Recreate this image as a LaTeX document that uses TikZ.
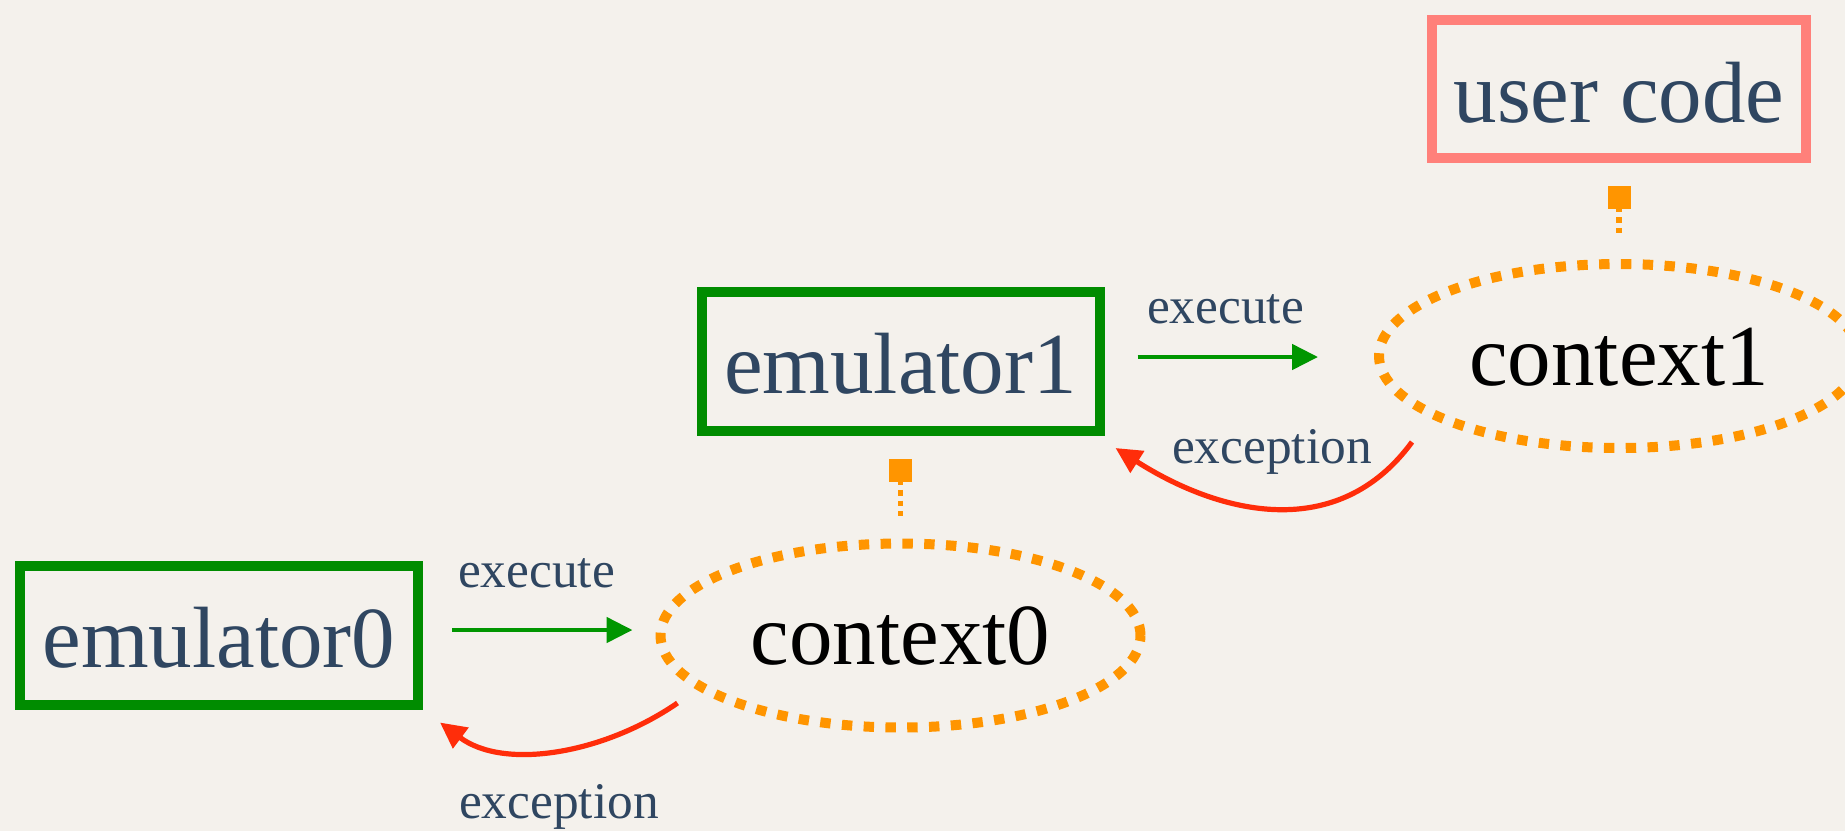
\documentclass[tikz,border=0pt]{standalone}
\usepackage{fontspec}
\setmainfont{Liberation Serif}
\usetikzlibrary{arrows.meta,shapes.geometric}

\definecolor{paper}{RGB}{244,241,236}
\definecolor{ink}{RGB}{47,70,97}
\definecolor{boxgreen}{RGB}{0,140,0}
\definecolor{arrowgreen}{RGB}{0,150,0}
\definecolor{salmon}{RGB}{255,128,122}
\definecolor{amber}{RGB}{255,149,0}
\definecolor{alarm}{RGB}{255,45,10}

\begin{document}
\begin{tikzpicture}[x=0.5pt,y=-0.5pt,
  big/.style={font=\fontsize{43.5}{50}\selectfont, inner sep=0pt, text depth=0pt},
  emubox/.style={big, draw=boxgreen, line width=5pt, text=ink, text height=32pt,
    minimum width=199pt, minimum height=69.5pt},
  userbox/.style={big, draw=salmon, line width=5.3pt, text=ink, text height=33pt,
    minimum width=187pt, minimum height=69pt},
  ctxell/.style={big, ellipse, draw=amber, line width=5pt,
    dash pattern=on 5.2pt off 5.7pt, text=black, text height=29pt,
    minimum width=240pt, minimum height=92pt},
  lbl/.style={font=\fontsize{25.7}{30}\selectfont, text=ink, inner sep=0pt, anchor=base},
  exec/.style={draw=arrowgreen, line width=2.4pt, -{Triangle[length=13pt,width=12.5pt]}},
  fault/.style={draw=alarm, line width=2.6pt, -{Triangle[length=13pt,width=12.5pt]}},
  hook/.style={draw=amber, line width=2.7pt, dash pattern=on 2.8pt off 2.5pt,
    {Square[length=11.5pt,width=11.5pt]}-, shorten <=11.5pt, shorten >=11.5pt}
]
  % canvas
  \fill[paper] (0,0) rectangle (1845,831);
  \useasboundingbox (0,0) rectangle (1845,831);
  \clip (0,0) rectangle (1845,831);

  % boxes and contexts
  \node[userbox] (uc)   at (1619,89)     {user code};
  \node[ctxell]  (ctx1) at (1619,356)    {context1};
  \node[emubox]  (emu1) at (900.5,361.5) {emulator1};
  \node[ctxell]  (ctx0) at (900.5,635.5) {context0};
  \node[emubox]  (emu0) at (219,635)     {emulator0};

  % ownership links
  \draw[hook] (uc.south) -- (ctx1.north);
  \draw[hook] (emu1.south) -- (ctx0.north);

  % execute arrows
  \draw[exec] ([shift={(33,-4.5)}]emu1.east) -- ([shift={(-56,1)}]ctx1.west);
  \draw[exec] ([shift={(29,-5)}]emu0.east) -- ([shift={(-23,-5.5)}]ctx0.west);

  % exception arrows
  \draw[fault] ([shift={(-207,86)}]ctx1.center)
    .. controls +(-74,101) and +(105,67) .. ([shift={(11,12)}]emu1.south east);
  \draw[fault] ([shift={(-223,67.5)}]ctx0.center)
    .. controls +(-74,51) and +(64,48) .. ([shift={(17,13)}]emu0.south east);

  % labels
  \node[lbl] (x1) at (1225.5,323) {execute};
  \node[lbl] (e1) at (1272,463)   {exception};
  \node[lbl] (x0) at (536.5,587)  {execute};
  \node[lbl] (e0) at (559,818)    {exception};
\end{tikzpicture}
\end{document}
